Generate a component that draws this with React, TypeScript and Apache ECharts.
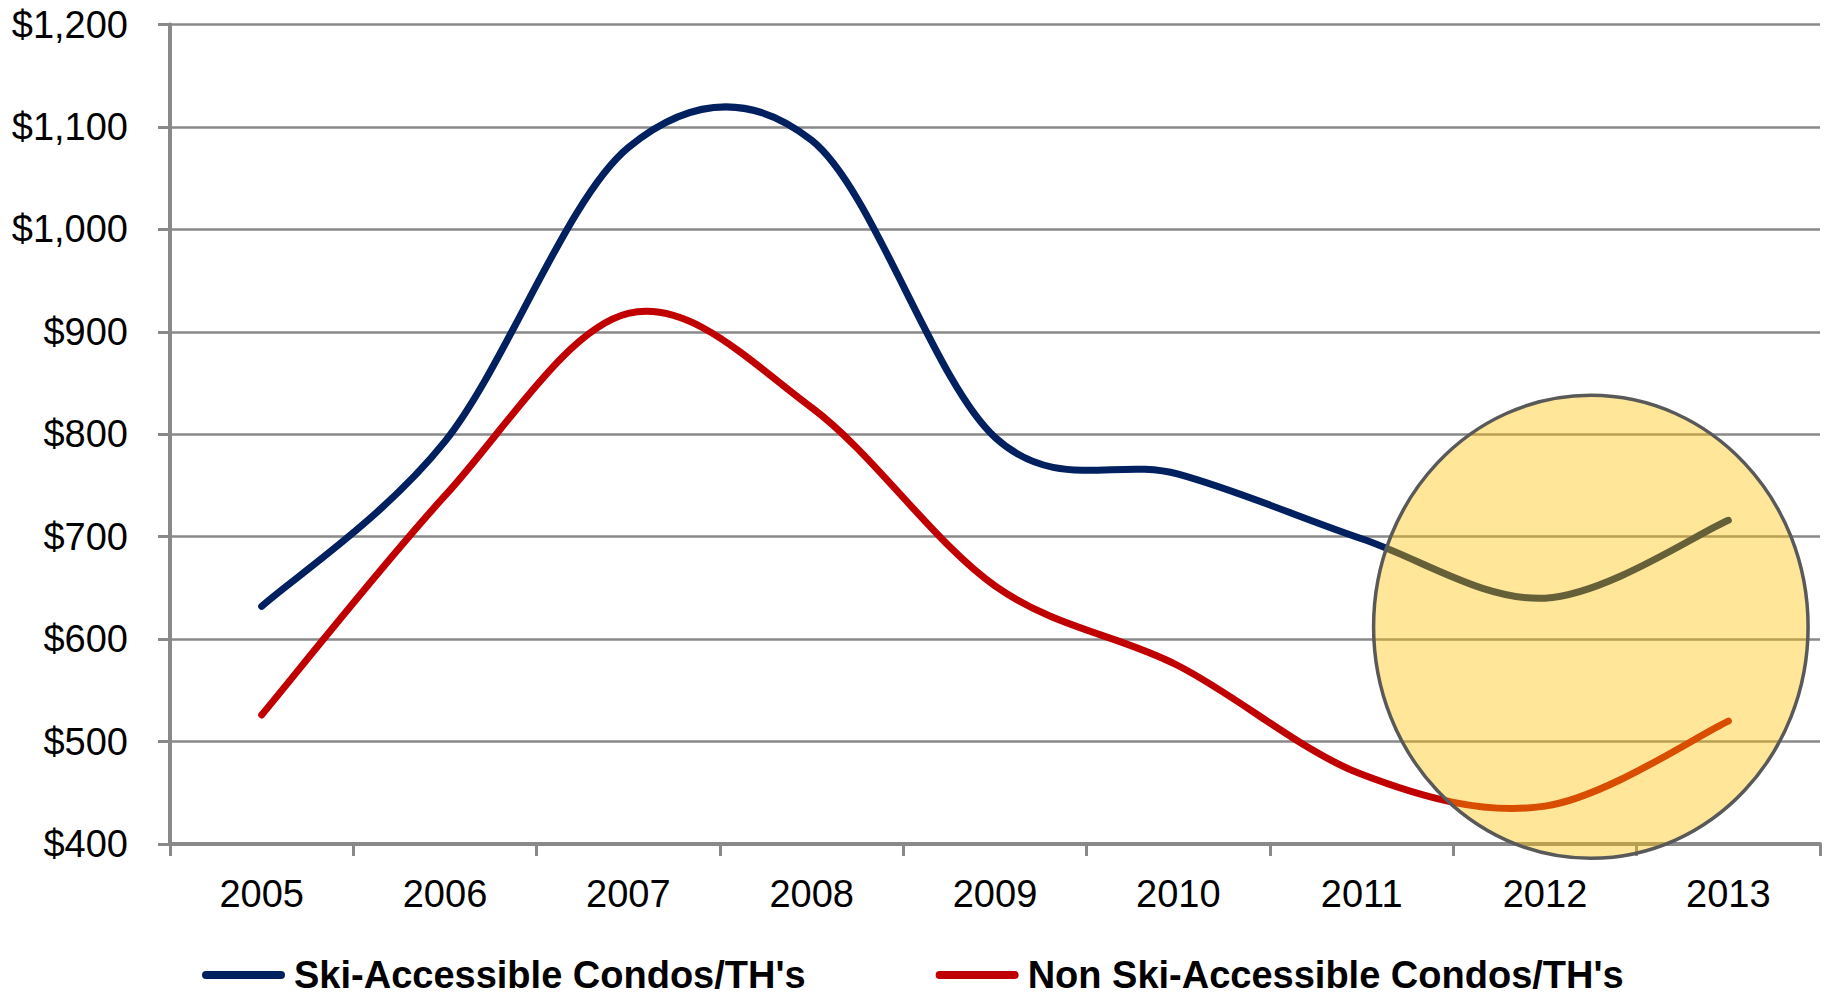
import React, { useEffect, useRef } from "react";
import * as echarts from "echarts";

const years = ["2005", "2006", "2007", "2008", "2009", "2010", "2011", "2012", "2013"];
const skiAccessible = [632, 793, 1080, 1087, 797, 761, 698, 640, 716];
const nonSkiAccessible = [526, 740, 918, 826, 652, 574, 468, 437, 520];
const yTicks = { min: 400, max: 1200, step: 100 };

const SKI_NAME = "Ski-Accessible Condos/TH's";
const NON_NAME = "Non Ski-Accessible Condos/TH's";
const SKI_COLOR = "#002060";
const NON_COLOR = "#C00000";

// highlighted region (annotation), in data units
const highlight = { categoryIndex: 7, bandShift: 0.25, value: 612, halfBands: 1.185, halfValue: 226 };

const FONT = "'Liberation Sans', Arial, Helvetica, sans-serif";
const GRAY = "#898989";

function smoothRender(values: number[], color: string) {
  return (params: any, api: any) => {
    if (params.dataIndex !== 0) return { type: "group", children: [] };
    const pts = values.map((v, j) => api.coord([j, v]));
    const n = pts.length;
    let d = `M${pts[0][0]},${pts[0][1]}`;
    for (let j = 0; j < n - 1; j++) {
      const p0 = pts[Math.max(j - 1, 0)];
      const p1 = pts[j];
      const p2 = pts[j + 1];
      const p3 = pts[Math.min(j + 2, n - 1)];
      const c1x = p1[0] + (p2[0] - p0[0]) / 6;
      const c1y = p1[1] + (p2[1] - p0[1]) / 6;
      const c2x = p2[0] - (p3[0] - p1[0]) / 6;
      const c2y = p2[1] - (p3[1] - p1[1]) / 6;
      d += ` C${c1x},${c1y} ${c2x},${c2y} ${p2[0]},${p2[1]}`;
    }
    return {
      type: "path",
      shape: { pathData: d },
      style: { fill: "none", stroke: color, lineWidth: 7, lineCap: "round", lineJoin: "round" },
    };
  };
}

function ellipseRender(params: any, api: any) {
  const bw = api.size([1, 0])[0];
  const c = api.coord([highlight.categoryIndex, highlight.value]);
  const below = api.coord([highlight.categoryIndex, highlight.value - highlight.halfValue]);
  return {
    type: "ellipse",
    shape: {
      cx: c[0] + highlight.bandShift * bw,
      cy: c[1],
      rx: highlight.halfBands * bw,
      ry: below[1] - c[1],
    },
    style: { fill: "rgba(255,192,0,0.4)", stroke: "#595959", lineWidth: 3.5 },
  };
}

const legendIcon = "path://M4,0 L79,0 A4,4 0 0 1 79,8 L4,8 A4,4 0 0 1 4,0 Z";

export default function App() {
  const ref = useRef<HTMLDivElement>(null);
  useEffect(() => {
    if (!ref.current) return;
    const chart = echarts.init(ref.current, undefined, { renderer: "svg" });
    chart.setOption({
      animation: false,
      backgroundColor: "#ffffff",
      textStyle: { fontFamily: FONT },
      grid: { left: 170, right: 12, top: 24.5, bottom: 153, containLabel: false },
      legend: {
        left: 197,
        top: 951,
        itemWidth: 83,
        itemHeight: 8,
        itemGap: 130,
        selectedMode: false,
        textStyle: {
          fontFamily: FONT,
          fontSize: 38,
          fontWeight: "bold",
          color: "#000",
          lineHeight: 36,
          padding: [0, 0, 0, 4],
        },
        data: [
          { name: SKI_NAME, icon: legendIcon, itemStyle: { color: SKI_COLOR } },
          { name: NON_NAME, icon: legendIcon, itemStyle: { color: NON_COLOR } },
        ],
      },
      xAxis: {
        type: "category",
        data: years,
        boundaryGap: true,
        axisLine: { show: true, lineStyle: { color: GRAY, width: 4 } },
        axisTick: { show: true, length: 12, lineStyle: { color: GRAY, width: 3 } },
        axisLabel: { fontSize: 38, color: "#000", margin: 31, fontFamily: FONT },
        splitLine: { show: false },
      },
      yAxis: {
        type: "value",
        min: yTicks.min,
        max: yTicks.max,
        interval: yTicks.step,
        axisLine: { show: true, lineStyle: { color: GRAY, width: 4 } },
        axisTick: { show: true, length: 12, lineStyle: { color: GRAY, width: 3 } },
        axisLabel: {
          fontSize: 38,
          color: "#000",
          margin: 42,
          fontFamily: FONT,
          formatter: (v: number) => "$" + v.toLocaleString("en-US"),
        },
        splitLine: { show: true, lineStyle: { color: GRAY, width: 2.7 } },
      },
      series: [
        {
          name: SKI_NAME,
          type: "custom",
          z: 3,
          itemStyle: { color: SKI_COLOR },
          data: skiAccessible.map((v, i) => [i, v]),
          renderItem: smoothRender(skiAccessible, SKI_COLOR),
        },
        {
          name: NON_NAME,
          type: "custom",
          z: 3,
          itemStyle: { color: NON_COLOR },
          data: nonSkiAccessible.map((v, i) => [i, v]),
          renderItem: smoothRender(nonSkiAccessible, NON_COLOR),
        },
        {
          name: "highlight",
          type: "custom",
          z: 5,
          silent: true,
          data: [[highlight.categoryIndex, highlight.value]],
          renderItem: ellipseRender,
        },
      ],
    });
    return () => chart.dispose();
  }, []);
  return (
    <div
      ref={ref}
      style={{ position: "fixed", left: 0, top: 0, width: 1832, height: 997, background: "#fff" }}
    />
  );
}
